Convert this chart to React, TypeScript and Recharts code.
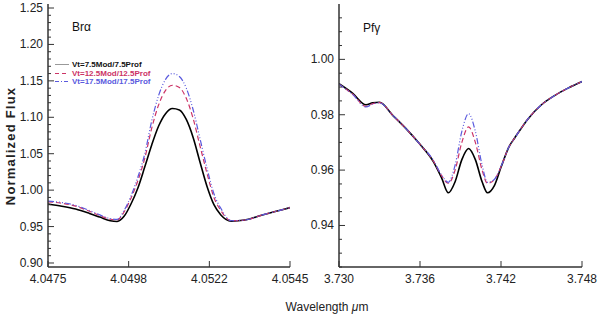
import React from 'react';
import { LineChart, Line, XAxis, YAxis } from 'recharts';

// Br alpha panel (left)
const brWave = [
  4.0475, 4.0479, 4.0483, 4.0487, 4.049, 4.0493, 4.0495, 4.0497, 4.0499, 4.0501, 4.0503, 4.0505, 4.0507, 4.0509,
  4.0511, 4.0513, 4.0515, 4.0517, 4.0519, 4.0521, 4.0523, 4.0525, 4.0528, 4.0532, 4.0537, 4.0541, 4.0545,
];
const brVt75 = [
  0.981, 0.978, 0.974, 0.968, 0.963, 0.958, 0.957, 0.964, 0.981, 1.003, 1.032, 1.062, 1.088, 1.105,
  1.112, 1.11, 1.097, 1.072, 1.038, 1.005, 0.98, 0.966, 0.9575, 0.959, 0.966, 0.971, 0.976,
];
const brVt125 = [
  0.984, 0.982, 0.978, 0.971, 0.965, 0.96, 0.959, 0.97, 0.989, 1.013, 1.044, 1.085, 1.117, 1.137,
  1.144, 1.141, 1.126, 1.098, 1.06, 1.023, 0.99, 0.972, 0.958, 0.959, 0.966, 0.971, 0.976,
];
const brVt175 = [
  0.985, 0.983, 0.979, 0.972, 0.966, 0.961, 0.96, 0.972, 0.992, 1.018, 1.05, 1.095, 1.13, 1.152,
  1.16, 1.156, 1.14, 1.11, 1.07, 1.03, 0.995, 0.975, 0.958, 0.959, 0.966, 0.971, 0.976,
];
const brXTicks = [4.0475, 4.049833, 4.052167, 4.0545];
const brXLabels = ['4.0475', '4.0498', '4.0522', '4.0545'];
const brYTicks = [
  0.9, 0.91, 0.92, 0.93, 0.94, 0.95, 0.96, 0.97, 0.98, 0.99, 1.0, 1.01, 1.02, 1.03, 1.04, 1.05, 1.06, 1.07,
  1.08, 1.09, 1.1, 1.11, 1.12, 1.13, 1.14, 1.15, 1.16, 1.17, 1.18, 1.19, 1.2, 1.21, 1.22, 1.23, 1.24, 1.25,
];

// Pf gamma panel (right)
const pfWave = [
  3.73, 3.731, 3.732, 3.7325, 3.733, 3.734, 3.735, 3.736, 3.737, 3.7376, 3.7381, 3.7386, 3.7391,
  3.7396, 3.7401, 3.7406, 3.741, 3.7415, 3.742, 3.7426, 3.743, 3.744, 3.745, 3.746, 3.747, 3.748,
];
const pfVt75 = [
  0.9912, 0.9878, 0.9836, 0.9843, 0.9845, 0.9797, 0.9748, 0.9693, 0.963, 0.9572, 0.9518, 0.9558, 0.9638,
  0.9678, 0.9638, 0.9558, 0.9518, 0.9543, 0.961, 0.9685, 0.9715, 0.9785, 0.9836, 0.987, 0.9897, 0.992,
];
const pfVt125 = [
  0.991, 0.9875, 0.983, 0.984, 0.9844, 0.9797, 0.9748, 0.9693, 0.9632, 0.958, 0.9552, 0.96, 0.97,
  0.9756, 0.97, 0.96, 0.9552, 0.9565, 0.9612, 0.9685, 0.9715, 0.9785, 0.9836, 0.987, 0.9897, 0.992,
];
const pfVt175 = [
  0.991, 0.9874, 0.9828, 0.9839, 0.9843, 0.9797, 0.9748, 0.9693, 0.9635, 0.9582, 0.9556, 0.9618, 0.974,
  0.9804, 0.974, 0.9618, 0.9556, 0.9566, 0.9613, 0.9685, 0.9715, 0.9785, 0.9836, 0.987, 0.9897, 0.992,
];
const pfXTicks = [3.73, 3.736, 3.742, 3.748];
const pfXLabels = ['3.730', '3.736', '3.742', '3.748'];
const pfYTicks = [
  0.925, 0.93, 0.935, 0.94, 0.945, 0.95, 0.955, 0.96, 0.965, 0.97, 0.975, 0.98, 0.985, 0.99, 0.995, 1.0,
  1.005, 1.01, 1.015,
];

const seriesNames = ['Vt=7.5Mod/7.5Prof', 'Vt=12.5Mod/12.5Prof', 'Vt=17.5Mod/17.5Prof'];

const FONT = '"Liberation Sans", Arial, Helvetica, sans-serif';
const AXIS = '#333';
const RED = '#cc3366';
const BLUE = '#5a5ade';
const BLUE_DASH = '6 2 1 2 1 2 1 2';

const brData = brWave.map((w, i) => ({ w, a: brVt75[i], b: brVt125[i], c: brVt175[i] }));
const pfData = pfWave.map((w, i) => ({ w, a: pfVt75[i], b: pfVt125[i], c: pfVt175[i] }));

type Side = 'left' | 'right' | 'top' | 'bottom';

// inward ticks, IDL style; labels only on left/bottom majors
function makeTick(side: Side, isMajor: (v: number) => boolean, label?: (v: number, i: number) => string) {
  return (props: any) => {
    const { x, y, payload, index } = props;
    const v = payload.value;
    const major = isMajor(v);
    const len = major ? 6 : 3;
    let x2 = x;
    let y2 = y;
    if (side === 'left') x2 = x + len;
    if (side === 'right') x2 = x - len;
    if (side === 'bottom') y2 = y - len;
    if (side === 'top') y2 = y + len;
    let txt = null;
    if (label && major) {
      txt =
        side === 'left' ? (
          <text x={x - 5} y={y} textAnchor="end" dominantBaseline="central" fontSize={12} fill="#222" fontFamily={FONT}>
            {label(v, index)}
          </text>
        ) : (
          <text x={x} y={y + 12} textAnchor="middle" dominantBaseline="central" fontSize={12} fill="#222" fontFamily={FONT}>
            {label(v, index)}
          </text>
        );
    }
    return (
      <g>
        <line x1={x} y1={y} x2={x2} y2={y2} stroke={AXIS} strokeWidth={1} />
        {txt}
      </g>
    );
  };
}

const axisLine = { stroke: AXIS, strokeWidth: 1.5 };
const always = () => true;
const brMajor = (v: number) => Math.abs(v * 20 - Math.round(v * 20)) < 1e-6;
const pfMajor = (v: number) => Math.abs(v * 50 - Math.round(v * 50)) < 1e-6;

function Panel({
  data,
  width,
  xDomain,
  xTicks,
  xLabels,
  yDomain,
  yTicks,
  yMajor,
  yFmt,
  yWidth,
  right,
}: {
  data: any[];
  width: number;
  xDomain: [number, number];
  xTicks: number[];
  xLabels: string[];
  yDomain: [number, number];
  yTicks: number[];
  yMajor: (v: number) => boolean;
  yFmt: (v: number) => string;
  yWidth: number;
  right: number;
}) {
  return (
    <LineChart width={width} height={290} data={data} margin={{ top: 4, right, bottom: 0, left: 0 }}>
      <XAxis
        xAxisId="b"
        dataKey="w"
        type="number"
        domain={xDomain}
        ticks={xTicks}
        interval={0}
        allowDataOverflow
        height={23}
        tickSize={0}
        tickMargin={0}
        tickLine={false}
        axisLine={axisLine}
        tick={makeTick('bottom', always, (_v, i) => xLabels[i])}
      />
      <XAxis
        xAxisId="t"
        orientation="top"
        dataKey="w"
        type="number"
        domain={xDomain}
        ticks={xTicks}
        interval={0}
        allowDataOverflow
        height={0}
        tickSize={0}
        tickMargin={0}
        tickLine={false}
        axisLine={axisLine}
        tick={makeTick('top', always)}
      />
      <YAxis
        yAxisId="l"
        type="number"
        domain={yDomain}
        ticks={yTicks}
        interval={0}
        allowDataOverflow
        width={yWidth}
        tickSize={0}
        tickMargin={0}
        tickLine={false}
        axisLine={axisLine}
        tick={makeTick('left', yMajor, (v) => yFmt(v))}
      />
      <YAxis
        yAxisId="r"
        orientation="right"
        type="number"
        domain={yDomain}
        ticks={yTicks}
        interval={0}
        allowDataOverflow
        width={0}
        tickSize={0}
        tickMargin={0}
        tickLine={false}
        axisLine={axisLine}
        tick={makeTick('right', yMajor)}
      />
      <Line xAxisId="b" yAxisId="l" type="monotone" dataKey="a" stroke="#000" strokeWidth={1.6} dot={false} isAnimationActive={false} />
      <Line xAxisId="b" yAxisId="l" type="monotone" dataKey="b" stroke={RED} strokeWidth={1.2} strokeDasharray="5 3" dot={false} isAnimationActive={false} />
      <Line xAxisId="b" yAxisId="l" type="monotone" dataKey="c" stroke={BLUE} strokeWidth={1.2} strokeDasharray={BLUE_DASH} dot={false} isAnimationActive={false} />
    </LineChart>
  );
}

export default function App() {
  const legendColors = ['#111', RED, BLUE];
  const legendDash = [undefined, '4 3', '4 2 1 2'];
  return (
    <div style={{ position: 'relative', width: 600, height: 317, background: '#fff', fontFamily: FONT, overflow: 'hidden' }}>
      <style>{'body{margin:0}'}</style>
      <div style={{ position: 'absolute', left: 0, top: 0 }}>
        <Panel
          data={brData}
          width={330}
          xDomain={[4.0475, 4.0545]}
          xTicks={brXTicks}
          xLabels={brXLabels}
          yDomain={[0.8945, 1.2555]}
          yTicks={brYTicks}
          yMajor={brMajor}
          yFmt={(v) => v.toFixed(2)}
          yWidth={48}
          right={40}
        />
      </div>
      <div style={{ position: 'absolute', left: 300, top: 0 }}>
        <Panel
          data={pfData}
          width={300}
          xDomain={[3.73, 3.748]}
          xTicks={pfXTicks}
          xLabels={pfXLabels}
          yDomain={[0.925, 1.02]}
          yTicks={pfYTicks}
          yMajor={pfMajor}
          yFmt={(v) => v.toFixed(2)}
          yWidth={39}
          right={18}
        />
      </div>

      <div style={{ position: 'absolute', left: 72, top: 20, fontSize: 12, color: '#111' }}>Brα</div>
      <div style={{ position: 'absolute', left: 363, top: 21, fontSize: 12, color: '#111' }}>Pfγ</div>

      {seriesNames.map((name, i) => (
        <div
          key={name}
          style={{ position: 'absolute', left: 55, top: 60 + i * 8.5, height: 9, display: 'flex', alignItems: 'center' }}
        >
          <svg width={15} height={9} style={{ display: 'block' }}>
            <line x1={0} y1={4.5} x2={14} y2={4.5} stroke={i === 0 ? '#999' : legendColors[i]} strokeWidth={1} strokeDasharray={legendDash[i]} />
          </svg>
          <span style={{ marginLeft: 2, fontSize: 8, fontWeight: 'bold', color: legendColors[i], whiteSpace: 'nowrap' }}>{name}</span>
        </div>
      ))}

      <div
        style={{
          position: 'absolute',
          left: 10,
          top: 146,
          transform: 'translate(-50%, -50%) rotate(-90deg)',
          fontSize: 13,
          fontWeight: 'bold',
          letterSpacing: 1.2,
          whiteSpace: 'nowrap',
          color: '#222',
        }}
      >
        Normalized Flux
      </div>
      <div
        style={{
          position: 'absolute',
          left: 327,
          top: 307,
          transform: 'translate(-50%, -50%)',
          fontSize: 12,
          whiteSpace: 'nowrap',
          color: '#222',
        }}
      >
        Wavelength <i>μ</i>m
      </div>
    </div>
  );
}
